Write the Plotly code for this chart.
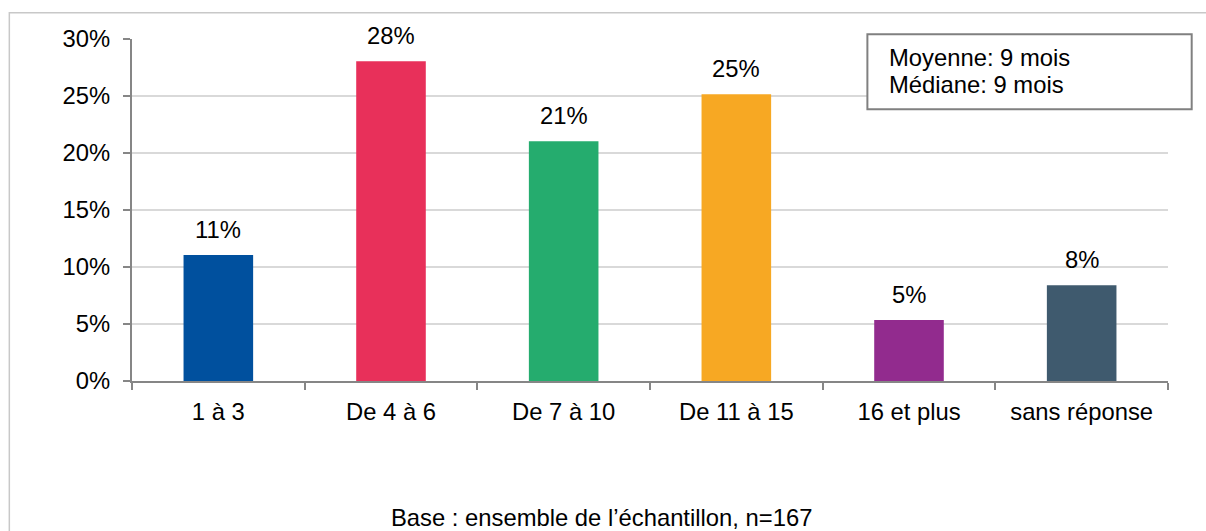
import plotly.graph_objects as go

categories = ["1 à 3", "De 4 à 6", "De 7 à 10", "De 11 à 15", "16 et plus", "sans réponse"]
values = [11.05, 28.05, 21.03, 25.15, 5.35, 8.4]
labels = ["11%", "28%", "21%", "25%", "5%", "8%"]
colors = ["#00509E", "#E8305A", "#25AC6E", "#F7A823", "#922B8E", "#3F5A6E"]
y_ticks = [0, 5, 10, 15, 20, 25, 30]
y_tick_labels = ["0%", "5%", "10%", "15%", "20%", "25%", "30%"]
stats_lines = ["Moyenne: 9 mois", "Médiane: 9 mois"]
note = "Base : ensemble de l’échantillon, n=167"

FONT = "Arial, 'Liberation Sans', sans-serif"
FS = 23.8

W, H = 1206, 531
L, R, T, B = 131.7, 38, 38.7, 150.3
PW = W - L - R
PH = H - T - B


def px_x(x):
    return (x - L) / PW


def px_y(y):
    return (H - B - y) / PH


fig = go.Figure()
fig.add_trace(go.Bar(
    x=categories, y=values, marker_color=colors, width=0.403,
    marker_line_width=0, showlegend=False, hoverinfo="skip",
))

for c, v, lab in zip(categories, values, labels):
    fig.add_annotation(x=c, y=v, text=lab, showarrow=False, yanchor="bottom",
                       yshift=10, font=dict(family=FONT, size=FS, color="#000000"))

# stats box
fig.add_shape(type="rect", xref="paper", yref="paper",
              x0=px_x(867.3), x1=px_x(1191.7), y0=px_y(109), y1=px_y(34),
              line=dict(color="#808080", width=2), fillcolor="#FFFFFF", layer="above")
for line, yc in zip(stats_lines, [57, 84.5]):
    fig.add_annotation(xref="paper", yref="paper", x=px_x(886.5), y=px_y(yc), text=line,
                       showarrow=False, xanchor="left", yanchor="middle",
                       font=dict(family=FONT, size=FS, color="#000000"))

# chart area border
fig.add_shape(type="path", xref="paper", yref="paper",
              path=f"M {px_x(9)} {px_y(560)} L {px_x(9)} {px_y(12.5)} L {px_x(1230)} {px_y(12.5)}",
              line=dict(color="#C8C8C8", width=1.5), layer="below")

fig.add_annotation(xref="paper", yref="paper", x=px_x(601.5), y=px_y(517), text=note,
                   showarrow=False, xanchor="center", yanchor="middle",
                   font=dict(family=FONT, size=FS, color="#000000"))

fig.update_layout(
    width=W, height=H,
    margin=dict(l=L, r=R, t=T, b=B, pad=0),
    paper_bgcolor="#FFFFFF", plot_bgcolor="#FFFFFF",
    font=dict(family=FONT, size=FS, color="#000000"),
    bargap=0.597,
)
fig.update_xaxes(
    type="category", showline=True, linecolor="#868686", linewidth=2,
    ticks="outside", tickson="boundaries", ticklen=7, tickcolor="#868686", tickwidth=2,
    showgrid=False, ticklabelstandoff=8, tickfont=dict(family=FONT, size=FS, color="#000000"),
)
fig.update_yaxes(
    range=[0, 30], tickvals=y_ticks, ticktext=y_tick_labels,
    showline=True, linecolor="#868686", linewidth=2,
    ticks="outside", ticklen=7, tickcolor="#868686", tickwidth=2,
    showgrid=True, gridcolor="#D9D9D9", gridwidth=2, zeroline=False,
    ticklabelstandoff=8, tickfont=dict(family=FONT, size=FS, color="#000000"),
)

fig.write_html(
    "out.html",
    config={"displayModeBar": False},
    post_script="document.body.style.margin='0';document.body.style.overflow='hidden';",
)
